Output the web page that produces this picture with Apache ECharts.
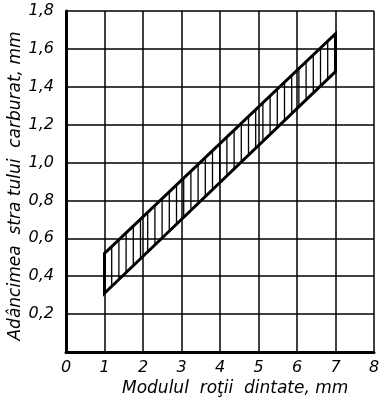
<!DOCTYPE html>
<html><head><meta charset="utf-8">
<script src="https://cdn.jsdelivr.net/npm/echarts@6/dist/echarts.min.js"></script>
<style>html,body{margin:0;padding:0;background:#fff}#c{width:384px;height:412px}</style>
</head><body><div id="c"></div>
<script>
var modules = [1, 7];
var upperDepth = [0.52, 1.68];
var lowerDepth = [0.31, 1.48];
var xTicks = [0, 1, 2, 3, 4, 5, 6, 7, 8];
var yTicks = [0, 0.2, 0.4, 0.6, 0.8, 1.0, 1.2, 1.4, 1.6, 1.8];

var FONT = '"DejaVu Sans", sans-serif';
var chart = echarts.init(document.getElementById('c'), null, {renderer: 'canvas'});

var bandData = [[modules[0], lowerDepth[0], upperDepth[0], modules[1], lowerDepth[1], upperDepth[1]]];

function renderBand(params, api) {
  var pL1 = api.coord([api.value(0), api.value(1)]);
  var pU1 = api.coord([api.value(0), api.value(2)]);
  var pL2 = api.coord([api.value(3), api.value(4)]);
  var pU2 = api.coord([api.value(3), api.value(5)]);
  var children = [];
  var step = 7.2;
  var w = pL2[0] - pL1[0];
  for (var x = pL1[0] + step; x < pL2[0] - 1; x += step) {
    var t = (x - pL1[0]) / w;
    var yl = pL1[1] + t * (pL2[1] - pL1[1]);
    var yu = pU1[1] + t * (pU2[1] - pU1[1]);
    children.push({type: 'line', shape: {x1: x, y1: yu, x2: x, y2: yl}, style: {stroke: '#000', lineWidth: 1.3}});
  }
  children.push({type: 'polygon', shape: {points: [pL1, pL2, pU2, pU1]},
    style: {fill: 'none', stroke: '#000', lineWidth: 3, lineJoin: 'miter'}});
  return {type: 'group', children: children};
}

chart.setOption({
  animation: false,
  backgroundColor: '#fff',
  grid: {left: 66, right: 10, top: 11, bottom: 60, containLabel: false, outerBoundsMode: 'none'},
  xAxis: {
    type: 'value', min: xTicks[0], max: xTicks[xTicks.length - 1], interval: 1,
    axisLine: {lineStyle: {color: '#000', width: 3}},
    axisTick: {show: false},
    splitLine: {show: true, lineStyle: {color: '#000', width: 1.5}},
    axisLabel: {color: '#000', fontSize: 16, fontStyle: 'italic', fontFamily: FONT, margin: 8}
  },
  yAxis: {
    type: 'value', min: yTicks[0], max: yTicks[yTicks.length - 1], interval: 0.2,
    axisLine: {show: true, lineStyle: {color: '#000', width: 3}},
    axisTick: {show: false},
    splitLine: {show: true, lineStyle: {color: '#000', width: 1.5}},
    axisLabel: {color: '#000', fontSize: 16, fontStyle: 'italic', fontFamily: FONT, margin: 12,
      formatter: function (v) { return v === 0 ? '' : v.toFixed(1).replace('.', ','); }}
  },
  graphic: [{
    type: 'text', left: 122, top: 380,
    style: {text: 'Modulul  roţii  dintate, mm', fill: '#000', fontSize: 17, fontStyle: 'italic', fontFamily: FONT}
  }, {
    type: 'text', x: 16, y: 186, rotation: Math.PI / 2,
    style: {text: 'Adâncimea  stra tului  carburat, mm', fill: '#000', fontSize: 17, fontStyle: 'italic',
      fontFamily: FONT, align: 'center', verticalAlign: 'middle'}
  }],
  series: [{
    type: 'custom', renderItem: renderBand, data: bandData,
    encode: {x: [0, 3], y: [1, 2, 4, 5]}, silent: true
  }]
});
</script></body></html>
